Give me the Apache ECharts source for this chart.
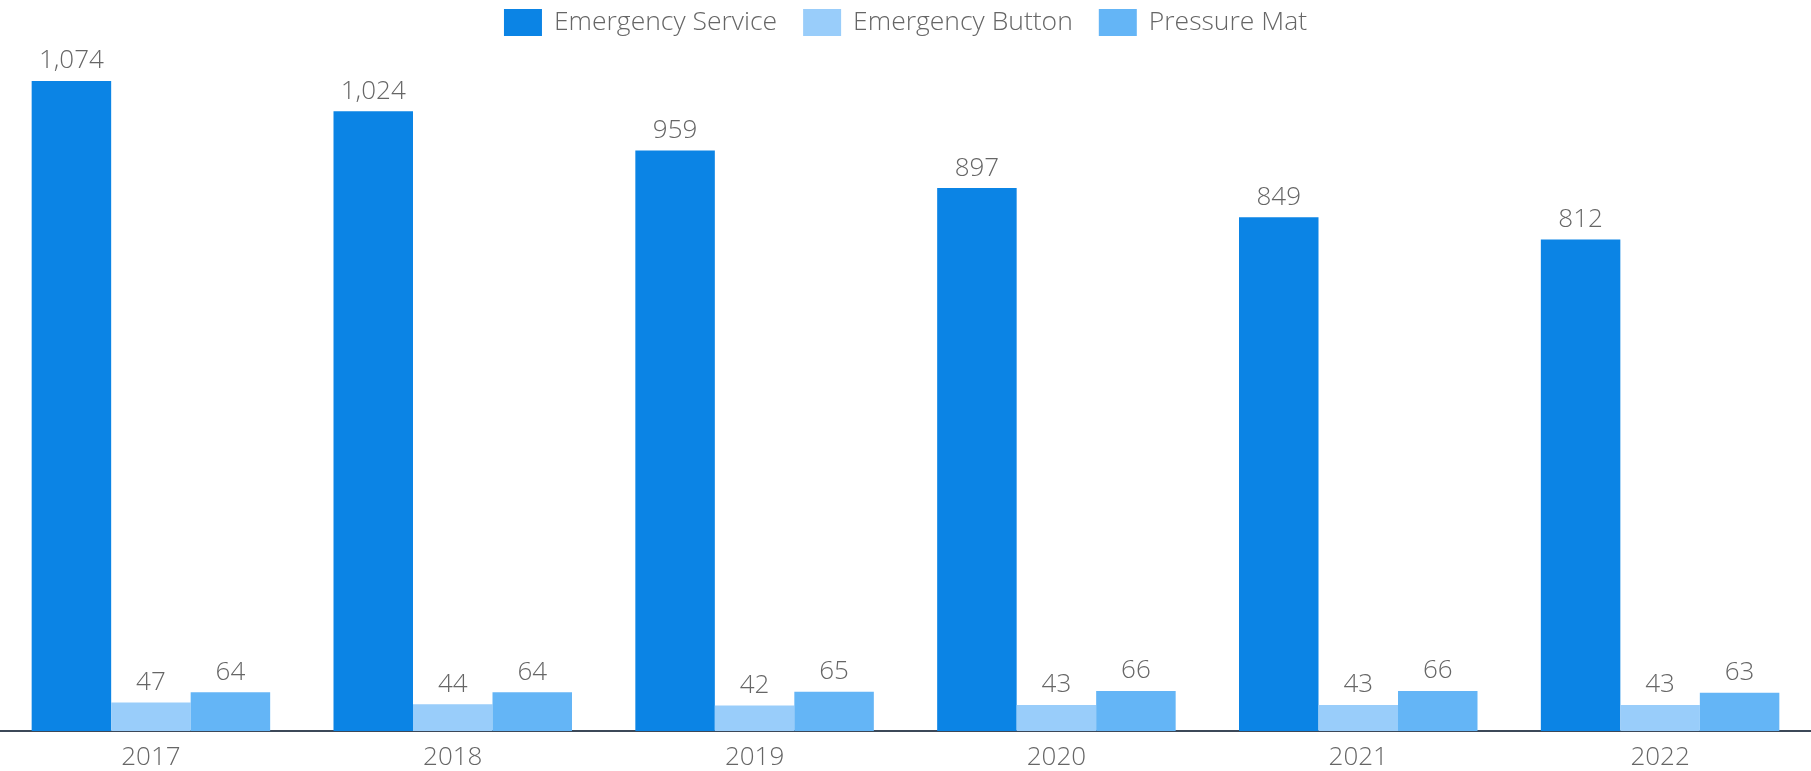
<!DOCTYPE html>
<html>
<head>
<meta charset="utf-8">
<script src="https://cdn.jsdelivr.net/npm/echarts@6/dist/echarts.min.js"></script>
<style>
  html, body { margin: 0; padding: 0; background: #fff; }
  #chart { width: 1811px; height: 771px; }
</style>
</head>
<body>
<div id="chart"></div>
<script>
// 数据
const years = ['2017', '2018', '2019', '2020', '2021', '2022'];
const emergencyService = [1074, 1024, 959, 897, 849, 812];
const emergencyButton = [47, 44, 42, 43, 43, 43];
const pressureMat = [64, 64, 65, 66, 66, 63];

const fontFamily = '"Open Sans", sans-serif';
const labelStyle = {
  show: true,
  position: 'top',
  distance: 7,
  color: '#666',
  fontFamily: fontFamily,
  fontWeight: 300,
  fontSize: 26,
  formatter: p => p.value.toLocaleString('en-US')
};

function makeSeries(name, data, color) {
  return {
    name: name,
    type: 'bar',
    data: data,
    barWidth: 79.5,
    barGap: '0%',
    itemStyle: { color: color },
    label: labelStyle
  };
}

const myChart = echarts.init(document.getElementById('chart'));
myChart.setOption({
  animation: false,
  legend: {
    top: 4,
    left: 'center',
    itemWidth: 38,
    itemHeight: 27,
    itemGap: 26,
    icon: 'rect',
    textStyle: {
      color: '#666',
      fontFamily: fontFamily,
      fontWeight: 300,
      fontSize: 26.5,
      padding: [0, 0, 0, 7]
    }
  },
  grid: { left: 0, right: 0, top: 81, bottom: 40 },
  xAxis: {
    type: 'category',
    data: years,
    axisTick: { show: false },
    axisLine: { lineStyle: { color: '#3c4858', width: 2 } },
    axisLabel: { color: '#666', fontFamily: fontFamily, fontWeight: 300, fontSize: 26, margin: 14 }
  },
  yAxis: {
    type: 'value',
    min: 0,
    max: 1074,
    show: false
  },
  series: [
    makeSeries('Emergency Service', emergencyService, '#0b84e5'),
    makeSeries('Emergency Button', emergencyButton, '#99cdfa'),
    makeSeries('Pressure Mat', pressureMat, '#64b5f6')
  ]
});
</script>
</body>
</html>
